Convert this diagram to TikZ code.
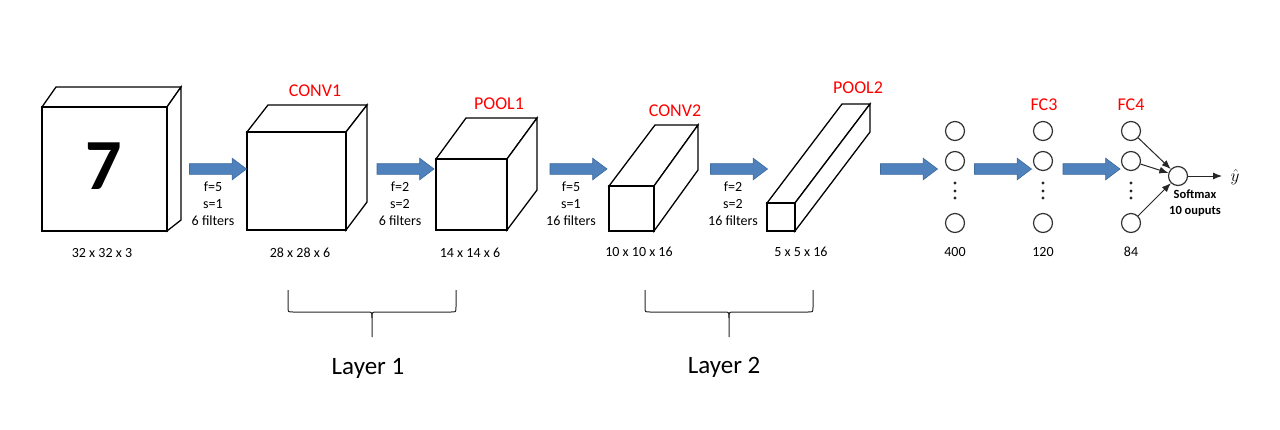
\documentclass[tikz,border=0pt]{standalone}
\usepackage{fontspec}
\setmainfont{Carlito}
\usetikzlibrary{positioning,arrows.meta,shapes.arrows}
\definecolor{arrblue}{RGB}{79,129,189}
\definecolor{arredge}{RGB}{62,106,156}
\definecolor{lblred}{RGB}{255,0,0}
% front: (#1,#2)-(#3,#4); back top-left (#5,#6); back right x #7; back bottom y #8
\newcommand{\cuboid}[8]{%
  \filldraw[face] (#1,#2) -- (#5,#6) -- (#7,#6) -- (#3,#2) -- cycle;
  \filldraw[face] (#3,#2) -- (#7,#6) -- (#7,#8) -- (#3,#4) -- cycle;
  \filldraw[face] (#1,#2) rectangle (#3,#4);}
% brace: left x, right x, tip x
\newcommand{\layerbrace}[3]{%
  \draw[brc] (#1,290) -- (#1,307) .. controls (#1,312) .. (#1+5,312) -- (#3-5,312)
    .. controls (#3,312) .. (#3,318) -- (#3,337);
  \draw[brc] (#3,318) .. controls (#3,312) .. (#3+5,312) -- (#2-5,312)
    .. controls (#2,312) .. (#2,307) -- (#2,290);}

\begin{document}
\begin{tikzpicture}[x=1pt,y=-1pt,>={Latex[length=9pt,width=7pt]},
  face/.style={draw=black,fill=white,line width=1.3pt,line join=miter},
  brc/.style={draw=black!85,line width=1pt},
  blockarrow/.style={single arrow,fill=arrblue,draw=arredge,line width=0.6pt,
    minimum height=57pt,inner sep=5pt,single arrow head extend=5.5pt,
    single arrow tip angle=74},
  lbl/.style={font=\fontsize{14}{17}\selectfont,inner sep=0pt},
  parm/.style={lbl,align=center,anchor=north},
  ttl/.style={font=\fontsize{18}{20}\selectfont,text=lblred,inner sep=0pt},
  lyr/.style={font=\fontsize{25}{28}\selectfont,inner sep=0pt},
  neuron/.style={circle,draw=black!80,fill=white,line width=1.2pt,minimum size=19pt,inner sep=0pt},
  conn/.style={->,line width=1pt,black!85}]
  \useasboundingbox[fill=white] (0,0) rectangle (1280,429);

  % volumes
  \cuboid{42}{107}{167}{231}{56}{87}{181}{220}
  \node[font=\fontsize{72}{72}\selectfont\bfseries,inner sep=0pt] (digit) at (104,166) {7};
  \cuboid{247}{132}{346}{230}{268}{105}{367}{202}
  \cuboid{436}{159}{507}{230}{466}{118}{537}{190}
  \cuboid{609}{186}{654}{231}{655}{125}{698}{170}
  \draw[line width=2.4pt] (609,186) -- (654,186);
  \cuboid{767}{203}{795}{231}{842}{104}{870}{132}

  \node[ttl] (conv1) at (315,91) {CONV1};
  \node[ttl] (pool1) at (499,104) {POOL1};
  \node[ttl] (conv2) at (675,111) {CONV2};
  \node[ttl] (pool2) at (858,88) {POOL2};
  \node[ttl] (fc3) at (1044,105) {FC3};
  \node[ttl] (fc4) at (1131,105) {FC4};

  \node[lbl] (d0) at (102,253) {32 x 32 x 3};
  \node[lbl] (d1) at (300,253) {28 x 28 x 6};
  \node[lbl] (d2) at (470,253) {14 x 14 x 6};
  \node[lbl] (d3) at (639,252) {10 x 10 x 16};
  \node[lbl] (d4) at (801,252) {5 x 5 x 16};
  \node[lbl] (d5) at (955,252) {400};
  \node[lbl] (d6) at (1043,252) {120};
  \node[lbl] (d7) at (1131,252) {84};

  % block arrows
  \node[blockarrow] (arr1) at (214.5,169) {};
  \node[blockarrow] (arr2) at (402,169) {};
  \node[blockarrow] (arr3) at (575,169) {};
  \node[blockarrow] (arr4) at (735.5,169) {};
  \node[blockarrow] (arr5) at (905.5,169) {};
  \node[blockarrow] (arr6) at (999.5,169) {};
  \node[blockarrow] (arr7) at (1088,169) {};

  \node[parm] (p1) at (213,182) {f=5\\s=1\\6 filters};
  \node[parm] (p2) at (400,182) {f=2\\s=2\\6 filters};
  \node[parm] (p3) at (571,182) {f=5\\s=1\\16 filters};
  \node[parm] (p4) at (733,182) {f=2\\s=2\\16 filters};

  % fully connected columns
  \foreach \c/\x in {1/955,2/1043,3/1131} {
    \node[neuron] (n\c-a) at (\x,131) {};
    \node[neuron] (n\c-b) at (\x,161) {};
    \node[neuron] (n\c-z) at (\x,223) {};
    \foreach \d in {183,191,198} \fill[black!85] (\x,\d) circle (1.7);
  }
  \node[neuron] (smx) at (1178,176) {};
  \coordinate (yout) at (1222,176);
  \node[inner sep=0pt,font=\fontsize{18}{20}\selectfont] (yhat) at (1235,177) {$\hat{y}$};
  \foreach \s in {a,b,z} \draw[conn] (n3-\s) -- (smx);
  \draw[conn] (smx) -- (yout);
  \node[inner sep=0pt,align=center,font=\fontsize{12.5}{16}\selectfont\bfseries] (smxlbl) at (1195,203) {Softmax\\10 ouputs};

  % layer braces
  \layerbrace{288}{456}{372}
  \layerbrace{645}{813}{729}
  \node[lyr] (lay1) at (368,368) {Layer 1};
  \node[lyr] (lay2) at (724,367) {Layer 2};
\end{tikzpicture}
\end{document}
